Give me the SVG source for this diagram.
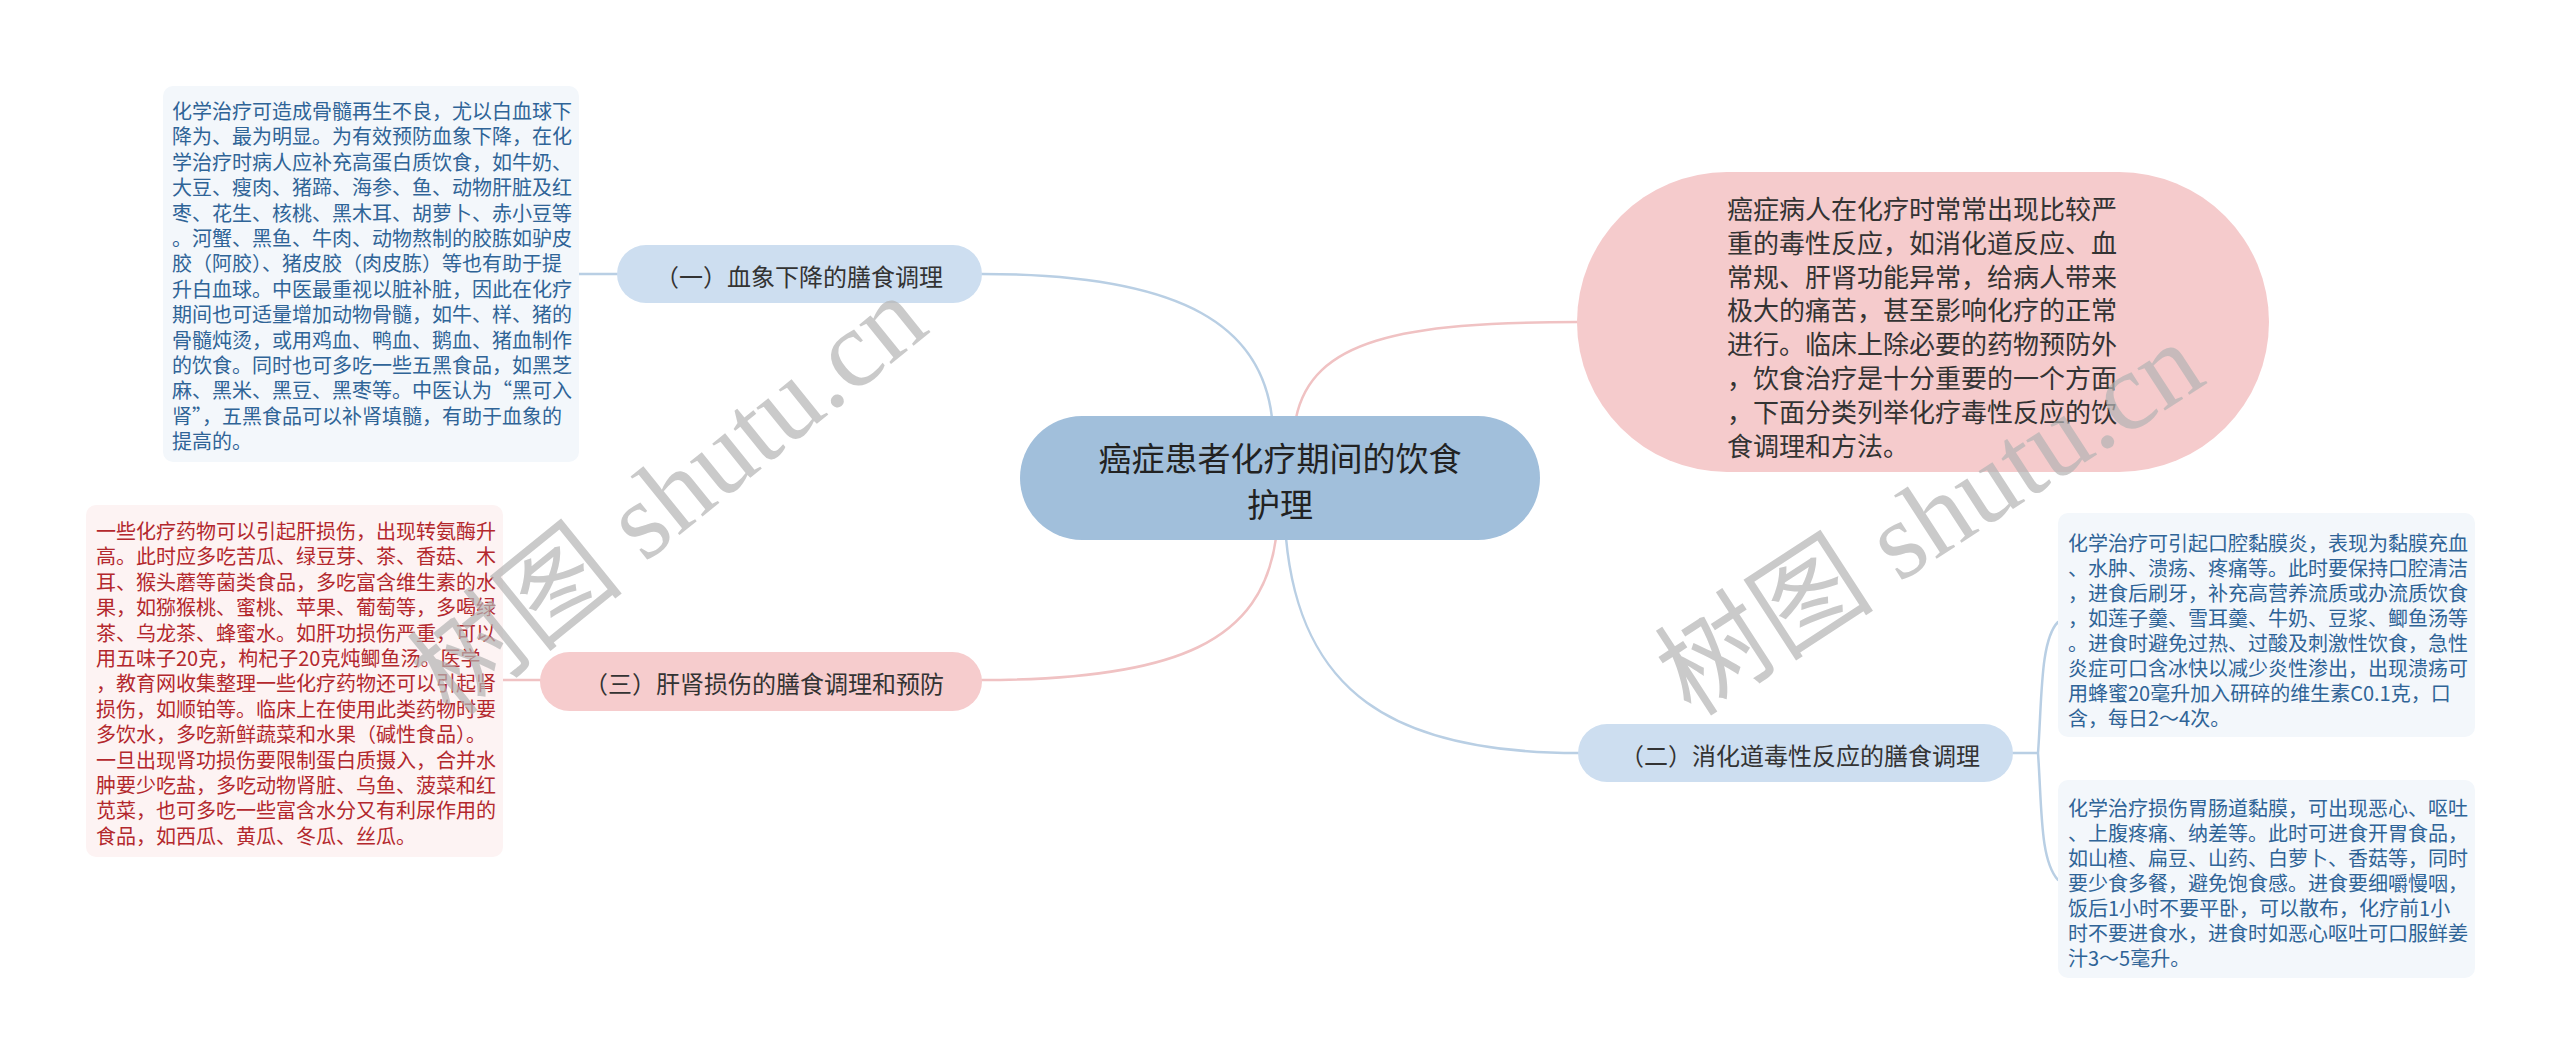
<svg xmlns="http://www.w3.org/2000/svg" width="2560" height="1064" viewBox="0 0 2560 1064">
<style>
.t { font-family: "Noto Sans CJK SC", "Noto Sans", sans-serif; dominant-baseline: central; }
.bt { font-size: 20px; fill: #2f6497; }
.rt { font-size: 20px; fill: #b3282d; }
.br { font-size: 24px; fill: #333333; }
.cl { fill: none; stroke-width: 2.5; stroke-linecap: round; }
.cb { stroke: #b9cfe4; }
.cp { stroke: #f0c2c3; }
.wm { font-family: "Liberation Serif", "Noto Sans CJK SC", serif; font-size: 110px; fill: #b4b4b4; opacity: 0.7; }
</style>
<rect width="2560" height="1064" fill="#ffffff"/>

<g id="connectors">
  <path class="cl cb" d="M1272 418 C1262 330 1190 274 982 274"/>
  <path class="cl cp" d="M1296 418 C1312 340 1400 322 1578 322"/>
  <path class="cl cp" d="M1276 538 C1262 640 1180 680 982 680"/>
  <path class="cl cb" d="M1286 538 C1300 690 1390 753 1578 753"/>
  <path class="cl cb" d="M617 274 L579 274"/>
  <path class="cl cp" d="M540 680 L503 680"/>
  <path class="cl cb" d="M2013 753 L2038 753 M2038 753 C2042 700 2040 640 2058 622 M2038 753 C2042 810 2040 860 2058 880"/>
</g>

<g id="node-left-text">
  <rect x="163" y="86" width="416" height="376" rx="10" fill="#f3f7fb"/>
  <text class="t bt" x="172" y="110">
    <tspan x="172" dy="0">化学治疗可造成骨髓再生不良，尤以白血球下</tspan>
    <tspan x="172" dy="25.4">降为、最为明显。为有效预防血象下降，在化</tspan>
    <tspan x="172" dy="25.4">学治疗时病人应补充高蛋白质饮食，如牛奶、</tspan>
    <tspan x="172" dy="25.4">大豆、瘦肉、猪蹄、海参、鱼、动物肝脏及红</tspan>
    <tspan x="172" dy="25.4">枣、花生、核桃、黑木耳、胡萝卜、赤小豆等</tspan>
    <tspan x="172" dy="25.4">。河蟹、黑鱼、牛肉、动物熬制的胶胨如驴皮</tspan>
    <tspan x="172" dy="25.4">胶（阿胶）、猪皮胶（肉皮胨）等也有助于提</tspan>
    <tspan x="172" dy="25.4">升白血球。中医最重视以脏补脏，因此在化疗</tspan>
    <tspan x="172" dy="25.4">期间也可适量增加动物骨髓，如牛、样、猪的</tspan>
    <tspan x="172" dy="25.4">骨髓炖烫，或用鸡血、鸭血、鹅血、猪血制作</tspan>
    <tspan x="172" dy="25.4">的饮食。同时也可多吃一些五黑食品，如黑芝</tspan>
    <tspan x="172" dy="25.4">麻、黑米、黑豆、黑枣等。中医认为“黑可入</tspan>
    <tspan x="172" dy="25.4">肾”，五黑食品可以补肾填髓，有助于血象的</tspan>
    <tspan x="172" dy="25.4">提高的。</tspan>
  </text>
</g>

<g id="node-left-red-text">
  <rect x="86" y="505" width="417" height="352" rx="10" fill="#fdf3f3"/>
  <text class="t rt" x="96" y="530">
    <tspan x="96" dy="0">一些化疗药物可以引起肝损伤，出现转氨酶升</tspan>
    <tspan x="96" dy="25.4">高。此时应多吃苦瓜、绿豆芽、茶、香菇、木</tspan>
    <tspan x="96" dy="25.4">耳、猴头蘑等菌类食品，多吃富含维生素的水</tspan>
    <tspan x="96" dy="25.4">果，如猕猴桃、蜜桃、苹果、葡萄等，多喝绿</tspan>
    <tspan x="96" dy="25.4">茶、乌龙茶、蜂蜜水。如肝功损伤严重，可以</tspan>
    <tspan x="96" dy="25.4">用五味子20克，枸杞子20克炖鲫鱼汤。医学</tspan>
    <tspan x="96" dy="25.4">，教育网收集整理一些化疗药物还可以引起肾</tspan>
    <tspan x="96" dy="25.4">损伤，如顺铂等。临床上在使用此类药物时要</tspan>
    <tspan x="96" dy="25.4">多饮水，多吃新鲜蔬菜和水果（碱性食品）。</tspan>
    <tspan x="96" dy="25.4">一旦出现肾功损伤要限制蛋白质摄入，合并水</tspan>
    <tspan x="96" dy="25.4">肿要少吃盐，多吃动物肾脏、乌鱼、菠菜和红</tspan>
    <tspan x="96" dy="25.4">苋菜，也可多吃一些富含水分又有利尿作用的</tspan>
    <tspan x="96" dy="25.4">食品，如西瓜、黄瓜、冬瓜、丝瓜。</tspan>
  </text>
</g>

<g id="node-branch-1">
  <rect x="617" y="245" width="365" height="58" rx="29" fill="#cddef0"/>
  <text class="t br" x="799" y="275" text-anchor="middle">（一）血象下降的膳食调理</text>
</g>

<g id="node-branch-3">
  <rect x="540" y="652" width="442" height="59" rx="29.5" fill="#f6cccd"/>
  <text class="t br" x="764" y="682" text-anchor="middle">（三）肝肾损伤的膳食调理和预防</text>
</g>

<g id="node-branch-2">
  <rect x="1578" y="724" width="435" height="58" rx="29" fill="#cddef0"/>
  <text class="t br" x="1800" y="754" text-anchor="middle">（二）消化道毒性反应的膳食调理</text>
</g>

<g id="node-center">
  <rect x="1020" y="416" width="520" height="124" rx="62" fill="#a1bfdb"/>
  <text class="t" x="1280" y="457" text-anchor="middle" font-size="33" fill="#222222">癌症患者化疗期间的饮食</text>
  <text class="t" x="1280" y="503" text-anchor="middle" font-size="33" fill="#222222">护理</text>
</g>

<g id="node-intro">
  <rect x="1577" y="172" width="692" height="300" rx="150" fill="#f5cbcc"/>
  <text class="t" x="1727" y="207" font-size="26" fill="#333333">
    <tspan x="1727" dy="0">癌症病人在化疗时常常出现比较严</tspan>
    <tspan x="1727" dy="33.8">重的毒性反应，如消化道反应、血</tspan>
    <tspan x="1727" dy="33.8">常规、肝肾功能异常，给病人带来</tspan>
    <tspan x="1727" dy="33.8">极大的痛苦，甚至影响化疗的正常</tspan>
    <tspan x="1727" dy="33.8">进行。临床上除必要的药物预防外</tspan>
    <tspan x="1727" dy="33.8">，饮食治疗是十分重要的一个方面</tspan>
    <tspan x="1727" dy="33.8">，下面分类列举化疗毒性反应的饮</tspan>
    <tspan x="1727" dy="33.8">食调理和方法。</tspan>
  </text>
</g>

<g id="node-right-text-1">
  <rect x="2058" y="513" width="417" height="224" rx="10" fill="#f3f7fb"/>
  <text class="t bt" x="2068" y="542">
    <tspan x="2068" dy="0">化学治疗可引起口腔黏膜炎，表现为黏膜充血</tspan>
    <tspan x="2068" dy="25">、水肿、溃疡、疼痛等。此时要保持口腔清洁</tspan>
    <tspan x="2068" dy="25">，进食后刷牙，补充高营养流质或办流质饮食</tspan>
    <tspan x="2068" dy="25">，如莲子羹、雪耳羹、牛奶、豆浆、鲫鱼汤等</tspan>
    <tspan x="2068" dy="25">。进食时避免过热、过酸及刺激性饮食，急性</tspan>
    <tspan x="2068" dy="25">炎症可口含冰快以减少炎性渗出，出现溃疡可</tspan>
    <tspan x="2068" dy="25">用蜂蜜20毫升加入研碎的维生素C0.1克，口</tspan>
    <tspan x="2068" dy="25">含，每日2～4次。</tspan>
  </text>
</g>

<g id="node-right-text-2">
  <rect x="2058" y="780" width="417" height="198" rx="10" fill="#f3f7fb"/>
  <text class="t bt" x="2068" y="807">
    <tspan x="2068" dy="0">化学治疗损伤胃肠道黏膜，可出现恶心、呕吐</tspan>
    <tspan x="2068" dy="25">、上腹疼痛、纳差等。此时可进食开胃食品，</tspan>
    <tspan x="2068" dy="25">如山楂、扁豆、山药、白萝卜、香菇等，同时</tspan>
    <tspan x="2068" dy="25">要少食多餐，避免饱食感。进食要细嚼慢咽，</tspan>
    <tspan x="2068" dy="25">饭后1小时不要平卧，可以散布，化疗前1小</tspan>
    <tspan x="2068" dy="25">时不要进食水，进食时如恶心呕吐可口服鲜姜</tspan>
    <tspan x="2068" dy="25">汁3～5毫升。</tspan>
  </text>
</g>

<g id="watermarks">
  <text class="wm" x="0" y="0" text-anchor="middle" transform="translate(692,525) rotate(-39)">树图 shutu.cn</text>
  <text class="wm" x="0" y="0" text-anchor="middle" transform="translate(1950,550) rotate(-33)">树图 shutu.cn</text>
</g>
</svg>
